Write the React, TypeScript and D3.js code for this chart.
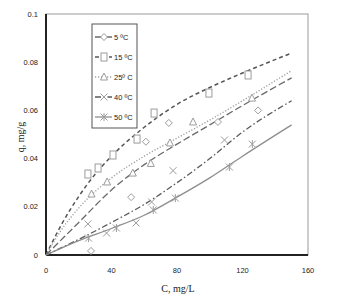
import React from "react";
import * as d3 from "d3";

const xTicks = [0, 40, 80, 120, 160];
const yTicks = [0, 0.02, 0.04, 0.06, 0.08, 0.1];
const yTickLabels = ["0", "0.02", "0.04", "0.06", "0.08", "0.1"];

const legendLabels = ["5 ºC", "15 ºC", "25º C", "40 ºC", "50 ºC"];

// fitted curves
const fitC5 = [0, 20, 40, 60, 80, 100, 120, 150];
const fitQ5 = [0, 0.0135, 0.027, 0.0375, 0.046, 0.054, 0.062, 0.0735];
const fitC15 = [0, 10, 20, 30, 40, 60, 80, 100, 120, 150];
const fitQ15 = [0, 0.0133, 0.0243, 0.0335, 0.041, 0.053, 0.0625, 0.0695, 0.0755, 0.0838];
const fitC25 = [0, 10, 20, 40, 60, 80, 100, 120, 150];
const fitQ25 = [0, 0.011, 0.0195, 0.032, 0.041, 0.0485, 0.056, 0.064, 0.0765];
const fitC40 = [0, 20, 40, 60, 80, 100, 120, 150];
const fitQ40 = [0, 0.0065, 0.0135, 0.021, 0.03, 0.04, 0.051, 0.064];
const fitC50 = [0, 20, 40, 60, 80, 100, 120, 150];
const fitQ50 = [0, 0.006, 0.011, 0.0165, 0.024, 0.032, 0.041, 0.054];

// measured points
const ptC5 = [27.5, 52, 61, 75, 105, 129.5];
const ptQ5 = [0.0017, 0.024, 0.047, 0.0548, 0.0552, 0.06];
const ptC15 = [25.6, 31.8, 40.9, 55.6, 66, 99.5, 123.4];
const ptQ15 = [0.0336, 0.0361, 0.0415, 0.0481, 0.0589, 0.0672, 0.0747];
const ptC25 = [27.8, 37.3, 53, 64, 75.7, 89.8, 125.8];
const ptQ25 = [0.0253, 0.0303, 0.034, 0.038, 0.0465, 0.0552, 0.0651];
const ptC40 = [25.6, 37, 55, 64.5, 77.6, 109];
const ptQ40 = [0.0129, 0.0091, 0.0133, 0.022, 0.035, 0.0477];
const ptC50 = [26, 43, 65.5, 79, 112, 126];
const ptQ50 = [0.007, 0.0112, 0.0187, 0.0236, 0.0365, 0.046];

type Series = {
  fc: number[]; fq: number[]; pc: number[]; pq: number[];
  dash: string; stroke: string; width: number; marker: string;
};

const series: Series[] = [
  { fc: fitC5, fq: fitQ5, pc: ptC5, pq: ptQ5, dash: "7,3", stroke: "#6a6a6a", width: 1.3, marker: "diamond" },
  { fc: fitC15, fq: fitQ15, pc: ptC15, pq: ptQ15, dash: "4,3", stroke: "#555", width: 1.5, marker: "square" },
  { fc: fitC25, fq: fitQ25, pc: ptC25, pq: ptQ25, dash: "1.2,1.8", stroke: "#a0a0a0", width: 1.4, marker: "triangle" },
  { fc: fitC40, fq: fitQ40, pc: ptC40, pq: ptQ40, dash: "6,2.5,1.5,2.5", stroke: "#5a5a5a", width: 1.3, marker: "x" },
  { fc: fitC50, fq: fitQ50, pc: ptC50, pq: ptQ50, dash: "", stroke: "#8e8e8e", width: 1.3, marker: "star" },
];

const M = "#9c9c9c";

function Marker({ type, x, y }: { type: string; x: number; y: number }) {
  const s = 3.5;
  if (type === "square")
    return <rect x={x - 3} y={y - 4} width={6} height={8} fill="white" stroke={M} strokeWidth={1} />;
  if (type === "diamond")
    return <path d={`M${x},${y - s}L${x + s},${y}L${x},${y + s}L${x - s},${y}Z`} fill="white" stroke={M} strokeWidth={1} />;
  if (type === "triangle")
    return <path d={`M${x},${y - 4}L${x + 3.5},${y + 3}L${x - 3.5},${y + 3}Z`} fill="white" stroke={M} strokeWidth={1} />;
  if (type === "x")
    return <path d={`M${x - s},${y - s}L${x + s},${y + s}M${x + s},${y - s}L${x - s},${y + s}`} stroke={M} strokeWidth={1} />;
  return (
    <path
      d={`M${x - s},${y - s}L${x + s},${y + s}M${x + s},${y - s}L${x - s},${y + s}M${x},${y - 4}L${x},${y + 4}`}
      stroke={M}
      strokeWidth={1}
    />
  );
}

export default function App() {
  const x = d3.scaleLinear().domain([0, 160]).range([46, 308]);
  const y = d3.scaleLinear().domain([0, 0.1]).range([255, 14]);
  const line = d3
    .line<[number, number]>()
    .x((d) => x(d[0]))
    .y((d) => y(d[1]))
    .curve(d3.curveMonotoneX);
  const tickFont = "'Liberation Sans Narrow', 'Liberation Sans', Arial, sans-serif";

  return (
    <svg width={340} height={300} style={{ position: "absolute", left: 0, top: 0, background: "white" }}>
      <rect x={0} y={0} width={340} height={300} fill="white" />
      {/* frame */}
      <rect x={x(0)} y={y(0.1)} width={x(160) - x(0)} height={y(0) - y(0.1)} fill="none" stroke="#999" strokeWidth={1} />
      <line x1={x(0)} x2={x(0)} y1={y(0.1)} y2={y(0)} stroke="#222" strokeWidth={2} />
      <line x1={x(0)} x2={x(160)} y1={y(0)} y2={y(0)} stroke="#222" strokeWidth={2} />

      {/* y ticks */}
      {yTicks.map((t, i) => (
        <text key={t} x={38} y={y(t) + 2.5} textAnchor="end" fontSize={7.5} fontFamily={tickFont} fill="#222">
          {yTickLabels[i]}
        </text>
      ))}
      {xTicks.map((t) => (
        <text key={t} x={x(t)} y={273} textAnchor="middle" fontSize={7.5} fontFamily={tickFont} fill="#222">
          {t}
        </text>
      ))}
      <text x={178} y={292} textAnchor="middle" fontSize={10} fontFamily="'Liberation Serif', serif" fill="#222">
        C, mg/L
      </text>
      <text
        transform={`translate(24,137) rotate(-90)`}
        textAnchor="middle"
        fontSize={10}
        fontFamily="'Liberation Serif', serif"
        fill="#222"
      >
        q, mg/g
      </text>

      {/* curves */}
      {series.map((s, i) => (
        <path
          key={"l" + i}
          d={line(s.fc.map((c, j) => [c, s.fq[j]] as [number, number])) || ""}
          fill="none"
          stroke={s.stroke}
          strokeWidth={s.width}
          strokeDasharray={s.dash || undefined}
        />
      ))}
      {series.map((s, i) =>
        s.pc.map((c, j) => <Marker key={"m" + i + "_" + j} type={s.marker} x={x(c)} y={y(s.pq[j])} />)
      )}

      {/* legend */}
      <rect x={92} y={24} width={45} height={104} fill="white" stroke="#555" strokeWidth={1} />
      {series.map((s, i) => {
        const ly = 37 + i * 20;
        return (
          <g key={"lg" + i}>
            <line x1={95} x2={112} y1={ly} y2={ly} stroke={s.stroke} strokeWidth={s.width} strokeDasharray={s.dash || undefined} />
            <Marker type={s.marker} x={104} y={ly} />
            <text x={114} y={ly + 2.5} fontSize={7.5} fontFamily={tickFont} fill="#222">
              {legendLabels[i]}
            </text>
          </g>
        );
      })}
    </svg>
  );
}
